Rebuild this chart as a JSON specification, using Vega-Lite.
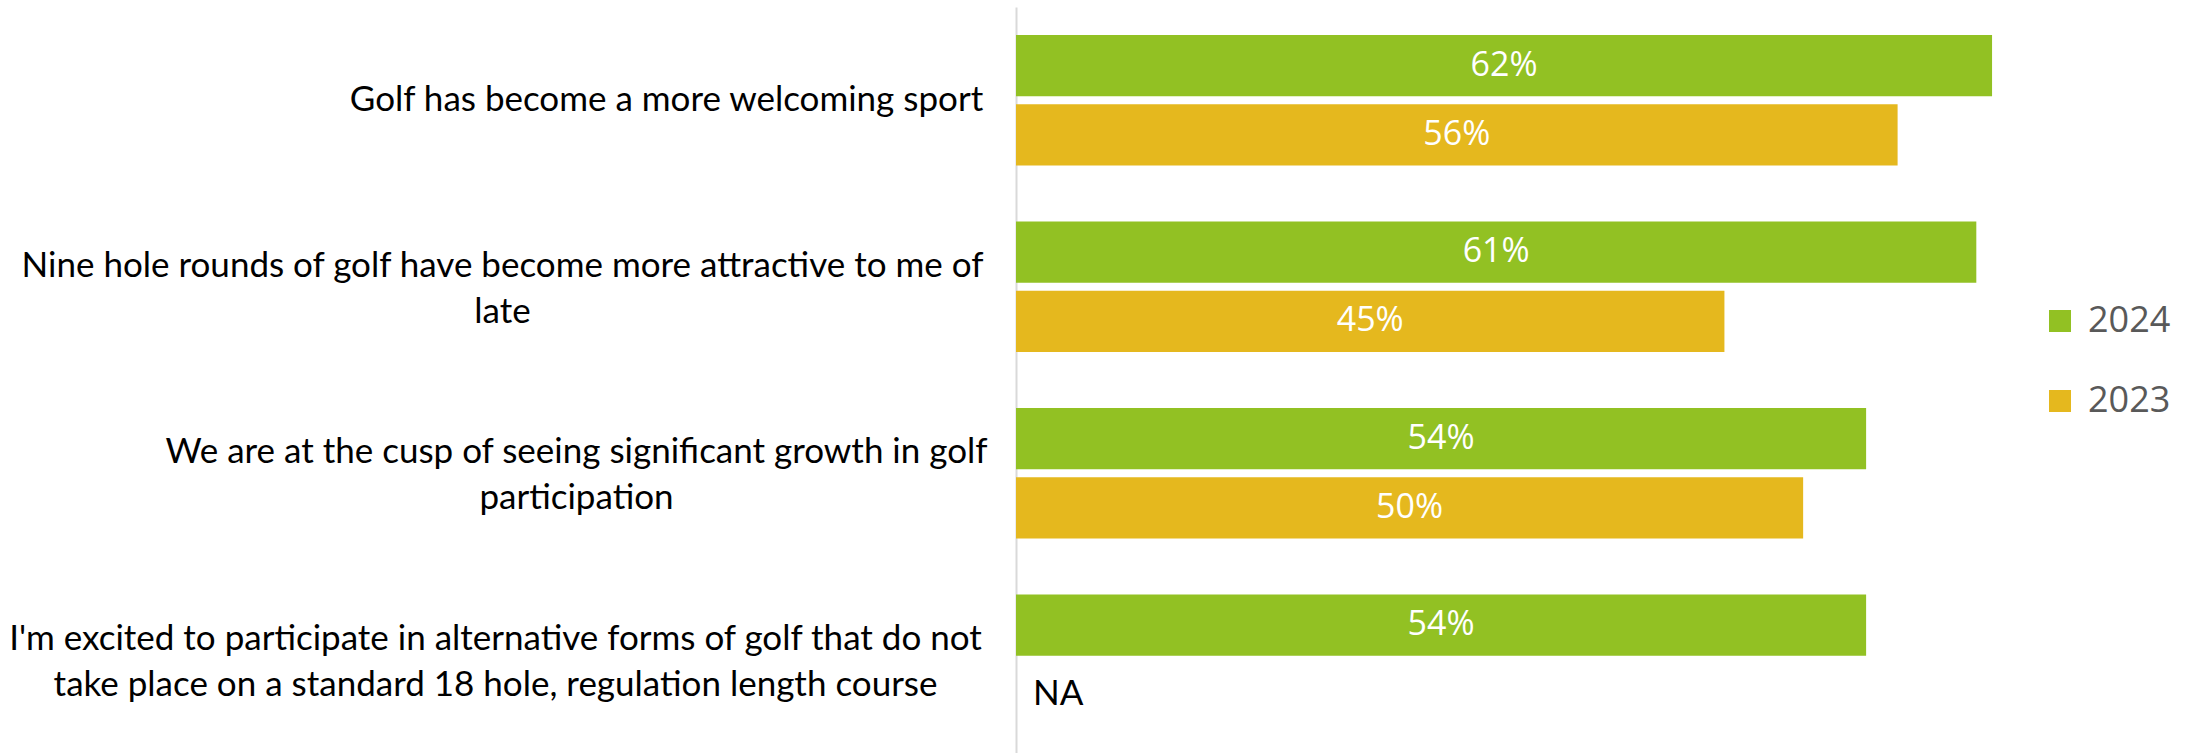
{
  "$schema": "https://vega.github.io/schema/vega-lite/v6.json",
  "width": 1102,
  "height": 746,
  "autosize": {"type": "none"},
  "padding": {"left": 1016, "top": 7, "right": 71, "bottom": 0},
  "background": "white",
  "config": {"view": {"stroke": null}},
  "data": {
    "values": [
      {"statement": "Golf has become a more welcoming sport", "year": "2024", "value": 0.62, "label": "62%"},
      {"statement": "Golf has become a more welcoming sport", "year": "2023", "value": 0.56, "label": "56%"},
      {"statement": "Nine hole rounds of golf have become more attractive to me of|late", "year": "2024", "value": 0.61, "label": "61%"},
      {"statement": "Nine hole rounds of golf have become more attractive to me of|late", "year": "2023", "value": 0.45, "label": "45%"},
      {"statement": "We are at the cusp of seeing significant growth in golf|participation", "year": "2024", "value": 0.54, "label": "54%"},
      {"statement": "We are at the cusp of seeing significant growth in golf|participation", "year": "2023", "value": 0.50, "label": "50%"},
      {"statement": "I'm excited to participate in alternative forms of golf that do not|take place on a standard 18 hole, regulation length course", "year": "2024", "value": 0.54, "label": "54%"},
      {"statement": "I'm excited to participate in alternative forms of golf that do not|take place on a standard 18 hole, regulation length course", "year": "2023", "value": null, "label": "NA"}
    ]
  },
  "encoding": {
    "y": {
      "field": "statement",
      "type": "nominal",
      "sort": null,
      "scale": {"paddingInner": 0.3, "paddingOuter": 0.15},
      "axis": {
        "title": null,
        "domainColor": "#D9D9D9",
        "domainWidth": 2,
        "ticks": false,
        "tickSize": 0,
        "labelAlign": "center",
        "labelBaseline": "middle",
        "labelFont": "Lato",
        "labelFontSize": 35,
        "labelColor": "#000000",
        "labelLineHeight": 46,
        "labelLimit": 0,
        "labelExpr": "split(datum.label, '|')",
        "labelOffset": {
          "condition": {"test": "indexof(datum.value, '|') >= 0", "value": -21},
          "value": 0
        },
        "labelPadding": {
          "condition": [
            {"test": "indexof(datum.value, 'Golf has') === 0", "value": 350},
            {"test": "indexof(datum.value, 'Nine hole') === 0", "value": 514},
            {"test": "indexof(datum.value, 'We are') === 0", "value": 440}
          ],
          "value": 521
        }
      }
    },
    "yOffset": {
      "field": "year",
      "type": "nominal",
      "scale": {"domain": ["2024", "2023"], "paddingInner": 0.116}
    }
  },
  "layer": [
    {
      "mark": {"type": "bar"},
      "encoding": {
        "x": {"field": "value", "type": "quantitative", "scale": {"domain": [0, 0.7], "nice": false}, "axis": null},
        "color": {
          "field": "year",
          "type": "nominal",
          "scale": {"domain": ["2024", "2023"], "range": ["#92C123", "#E5B81E"]},
          "legend": {
            "orient": "none",
            "legendX": 1026,
            "legendY": 296,
            "title": null,
            "symbolType": "square",
            "symbolSize": 484,
            "symbolStrokeWidth": 0,
            "labelFont": "Open Sans",
            "labelFontSize": 36,
            "labelColor": "#595959",
            "labelOffset": 10,
            "rowPadding": 44,
            "padding": 0
          }
        }
      }
    },
    {
      "transform": [{"filter": "isValid(datum.value)"}],
      "mark": {"type": "text", "color": "white", "font": "Open Sans", "fontSize": 34, "align": "center", "baseline": "middle"},
      "encoding": {
        "x": {"field": "value", "type": "quantitative", "scale": {"domain": [0, 0.7], "range": [0, 551], "nice": false}, "axis": null},
        "text": {"field": "label"}
      }
    },
    {
      "transform": [{"filter": "!isValid(datum.value)"}],
      "mark": {"type": "text", "color": "#000000", "font": "Lato", "fontSize": 35, "align": "left", "baseline": "middle", "dx": 17},
      "encoding": {
        "x": {"datum": 0, "type": "quantitative", "scale": {"domain": [0, 0.7], "nice": false}, "axis": null},
        "text": {"field": "label"}
      }
    }
  ],
  "resolve": {"scale": {"x": "independent"}}
}
